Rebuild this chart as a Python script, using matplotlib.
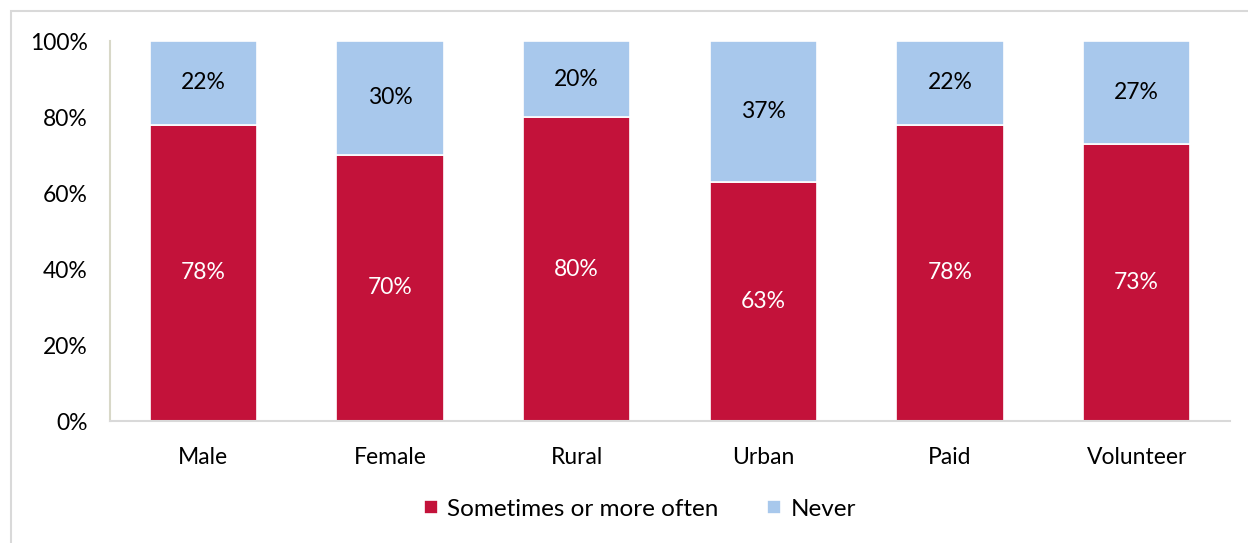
import matplotlib
matplotlib.use("Agg")
import matplotlib.pyplot as plt
from matplotlib.patches import Rectangle

categories = ["Male", "Female", "Rural", "Urban", "Paid", "Volunteer"]
sometimes = [78, 70, 80, 63, 78, 73]
never = [22, 30, 20, 37, 22, 27]
series_names = ["Sometimes or more often", "Never"]
yticks = [0, 20, 40, 60, 80, 100]

RED = "#C3123A"
BLUE = "#A8C8EC"

plt.rcParams["font.family"] = ["Lato", "DejaVu Sans"]

fig = plt.figure(figsize=(12.48, 5.43), dpi=100)
ax = fig.add_axes([110 / 1248, 1 - 421 / 543, 1120 / 1248, 380 / 543])

x = range(len(categories))
w = 0.575
b1 = ax.bar(x, sometimes, width=w, color=RED, edgecolor="white", linewidth=1.2,
            label=series_names[0], zorder=2)
b2 = ax.bar(x, never, width=w, bottom=sometimes, color=BLUE, edgecolor="white",
            linewidth=1.2, label=series_names[1], zorder=2)

for i, (s, n) in enumerate(zip(sometimes, never)):
    ax.text(i, s / 2, f"{s}%", ha="center", va="center", color="white", fontsize=16.5)
    ax.text(i, s + n / 2, f"{n}%", ha="center", va="center", color="black", fontsize=16.5)

ax.set_xlim(-0.5, len(categories) - 0.5)
ax.set_ylim(0, 100)
ax.set_yticks(yticks)
ax.set_yticklabels([f"{t}%" for t in yticks], fontsize=16.5)
ax.set_xticks(list(x))
ax.set_xticklabels(categories, fontsize=16.5)
ax.tick_params(axis="both", length=0)
ax.tick_params(axis="y", pad=16)
ax.tick_params(axis="x", pad=19)

for side in ["top", "right"]:
    ax.spines[side].set_visible(False)
ax.spines["left"].set_color("#D8D8C8")
ax.spines["left"].set_linewidth(1.5)
ax.spines["bottom"].set_color("#D9D9D9")
ax.spines["bottom"].set_linewidth(1.5)

leg = fig.legend(handles=[b1, b2], labels=series_names, loc="center",
                 bbox_to_anchor=(640 / 1248, 1 - 509 / 543), ncol=2, frameon=False,
                 fontsize=17.5, handlelength=0.55, handleheight=0.55, handletextpad=0.4,
                 columnspacing=2.0)

fig.patches.append(Rectangle((11 / 1248, -0.1), 1.2, 1 - 11 / 543 + 0.1,
                             transform=fig.transFigure, fill=False,
                             edgecolor="#D9D9D9", linewidth=1.5))

fig.savefig("out.png", dpi=100)
